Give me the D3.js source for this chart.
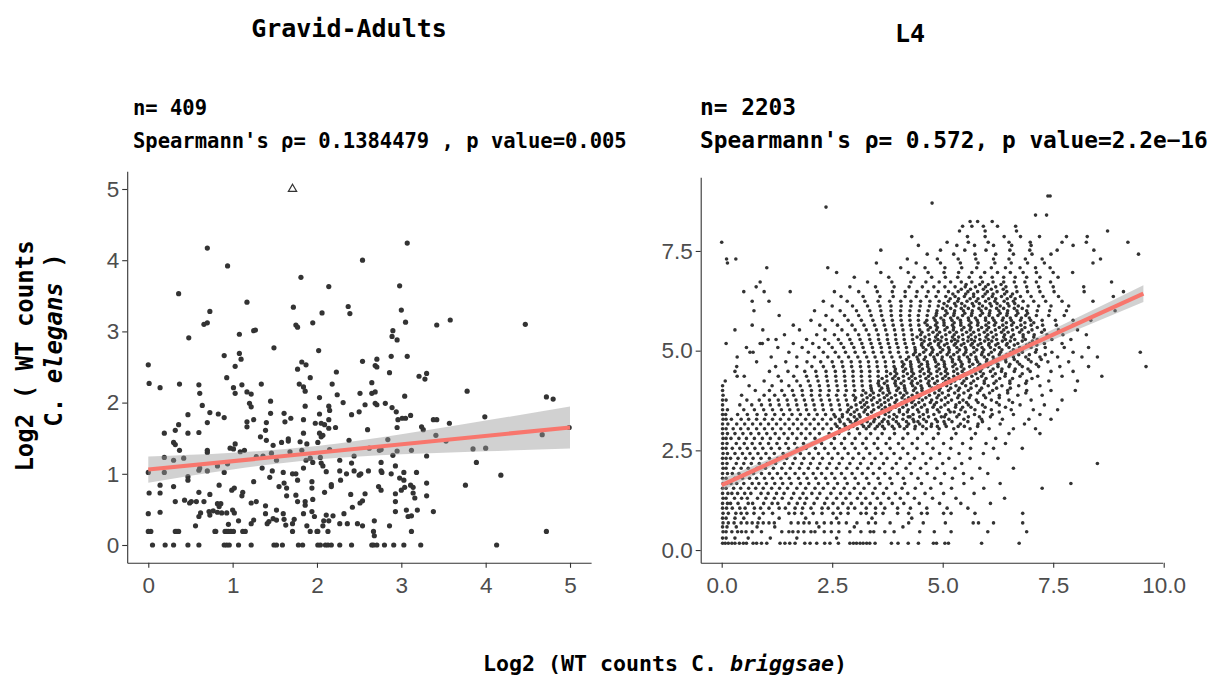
<!DOCTYPE html>
<html><head><meta charset="utf-8">
<script src="https://cdn.jsdelivr.net/npm/d3@7"></script>
<style>body{margin:0;background:#fff}svg{display:block}</style>
</head><body><svg id="c" width="1217" height="677"></svg>
<script>
// ---------------- DATA ----------------
const titles = ["Gravid-Adults", "L4"];
const nLabels = ["n= 409", "n= 2203"];
const statLabels = ["Spearmann's \u03c1= 0.1384479 , p value=0.005", "Spearmann's \u03c1= 0.572, p value=2.2e\u221216"];
const gaXTicks = [0, 1, 2, 3, 4, 5];
const gaYTicks = [0, 1, 2, 3, 4, 5];
const l4XTicks = [0, 2.5, 5, 7.5, 10];
const l4YTicks = [0, 2.5, 5, 7.5];
// Gravid-Adults points [log2 C. briggsae, log2 C. elegans]
const gaPoints = [
[0.70,4.17],[0.94,3.92],[3.07,4.24],[2.54,4.00],[1.81,3.76],[2.14,3.63],[2.98,3.64],[0.36,3.53],[1.17,3.41],[1.72,3.34],[2.37,3.35],[2.39,3.25],[3.00,3.30],[0.73,3.28],[2.06,3.26],[3.05,3.13],[0.70,3.12],[0.66,3.10],[1.95,3.12],[1.75,3.09],[1.77,3.06],[3.42,3.09],[3.58,3.16],[4.47,3.10],[2.90,3.01],[2.89,2.93],[2.95,2.88],[1.27,3.02],[1.25,3.01],[1.08,2.96],[0.48,2.91],[1.49,2.77],[2.02,2.73],[0.90,2.66],[1.08,2.69],[1.10,2.61],[1.03,2.51],[0.00,2.53],[1.82,2.57],[1.87,2.53],[1.77,2.47],[2.54,2.58],[2.71,2.61],[2.69,2.52],[2.71,2.50],[2.88,2.65],[3.07,2.65],
[2.23,2.43],[2.86,2.42],[3.21,2.37],[3.30,2.41],[3.28,2.33],[0.93,2.35],[1.92,2.35],[0.01,2.27],[0.14,2.21],[0.37,2.26],[0.60,2.25],[0.61,2.13],[1.01,2.21],[1.03,2.13],[1.11,2.25],[1.17,2.15],[1.22,2.12],[1.34,2.26],[1.79,2.26],[1.84,2.22],[1.86,2.16],[2.18,2.26],[2.24,2.11],[2.51,2.13],[2.65,2.28],[2.65,2.13],[2.69,2.15],[3.04,2.09],[3.78,2.16],[4.72,2.08],[4.80,2.05],[1.45,2.02],[0.64,1.96],[1.20,1.99],[1.22,1.94],[1.86,1.95],[2.03,2.07],[2.14,1.95],[2.15,1.89],[2.31,2.00],[2.57,1.97],[2.69,1.99],[2.71,1.97],[2.81,1.99],[2.89,1.93],[2.94,1.87],[0.73,1.86],[0.83,1.84],[0.90,1.79],[0.47,1.83],[1.45,1.85],[1.61,1.85],[1.62,1.73],[1.69,1.78],[1.84,1.76],[2.03,1.84],[2.41,1.83],[2.50,1.87],[3.01,1.78],[3.05,1.78],[2.96,1.76],[3.11,1.82],[3.38,1.76],[3.42,1.76],[3.57,1.71],[3.99,1.80],[4.99,1.65],[4.67,1.55],[1.25,1.76],[1.17,1.73],[1.17,1.66],[1.40,1.72],[0.70,1.72],[0.36,1.69],[0.32,1.61],[0.19,1.57],[0.47,1.57],[0.60,1.58],[1.39,1.61],[1.98,1.71],[2.05,1.71],[2.09,1.69],[2.14,1.76],[2.14,1.64],[2.22,1.65],[2.03,1.57],[2.05,1.52],[2.07,1.54],[1.84,1.57],[1.66,1.49],[1.66,1.46],[1.68,1.31],[2.60,1.62],[2.95,1.65],[3.24,1.66],[3.26,1.62],[3.41,1.54],[3.53,1.46],[1.33,1.52],[1.40,1.47],[1.48,1.40],[1.58,1.44],[1.80,1.45],[1.88,1.42],[2.01,1.44],[2.38,1.47],[2.84,1.48],[0.30,1.44],[0.32,1.41],[0.37,1.33],[0.70,1.33],[0.70,1.30],[0.97,1.36],[1.01,1.35],[1.03,1.42],[1.09,1.31],[1.14,1.33],[1.28,1.24],[1.36,1.25],[1.46,1.29],[1.52,1.19],[1.82,1.33],[1.87,1.19],[1.92,1.22],[1.95,1.16],[2.04,1.23],[2.05,1.15],[2.07,1.11],[2.15,1.34],[2.27,1.19],[2.41,1.15],[2.44,1.25],[2.62,1.36],[2.74,1.33],[2.76,1.34],[2.76,1.16],[2.90,1.26],[2.95,1.32],[3.12,1.33],[3.30,1.25],[3.85,1.35],[4.00,1.36],[3.89,1.16],[0.19,1.23],[0.30,1.19],[0.42,1.22],[0.00,1.02],[0.19,1.02],[0.47,0.96],[0.47,0.91],[0.60,1.05],[0.61,1.08],[0.70,1.04],[0.82,1.11],[0.90,1.02],[0.94,1.14],[1.35,1.08],[1.44,0.95],[1.47,1.04],[1.60,1.02],[1.71,1.00],[1.75,1.00],[1.77,0.91],[1.84,1.08],[1.94,0.89],[1.94,0.80],[2.11,1.03],[2.27,1.04],[2.28,0.91],[2.35,1.00],[2.44,1.04],[2.50,0.98],[2.52,1.00],[2.61,1.04],[2.77,1.02],[2.76,1.04],[2.88,1.00],[2.93,1.11],[2.98,0.94],[3.03,0.91],[3.03,1.02],[3.11,0.84],[3.14,0.81],[3.18,1.02],[3.30,0.87],[3.76,0.84],[4.18,0.98],[1.25,0.89],[1.61,0.87],[1.64,0.80],[1.55,0.82],[0.30,0.82],[0.14,0.84],[0.14,0.73],[0.01,0.73],[0.84,0.84],[0.99,0.77],[1.02,0.80],[1.12,0.74],[1.11,0.69],[0.60,0.74],[0.73,0.71],[2.17,0.82],[2.17,0.85],[2.09,0.74],[2.40,0.71],[2.57,0.72],[2.73,0.82],[2.76,0.77],[2.93,0.72],[3.00,0.77],[3.04,0.81],[3.14,0.73],[3.16,0.66],[3.30,0.69],[0.43,0.63],[0.49,0.59],[0.51,0.61],[0.32,0.61],[0.57,0.61],[0.66,0.61],[1.22,0.59],[1.28,0.61],[0.82,0.58],[0.84,0.54],[0.86,0.58],[1.39,0.55],[1.64,0.69],[1.75,0.70],[1.77,0.61],[1.86,0.61],[1.86,0.56],[1.95,0.64],[2.51,0.59],[2.54,0.62],[2.42,0.53],[2.93,0.61],[3.06,0.49],[3.08,0.40],[3.19,0.49],[3.12,0.41],[3.38,0.47],[0.14,0.46],[0.00,0.44],[0.62,0.45],[0.60,0.40],[0.72,0.47],[0.73,0.42],[0.77,0.48],[0.82,0.46],[0.87,0.45],[0.93,0.45],[1.00,0.49],[1.02,0.45],[1.39,0.44],[1.41,0.30],[1.43,0.33],[1.48,0.37],[1.52,0.49],[1.60,0.44],[1.52,0.35],[1.61,0.36],[1.73,0.36],[1.71,0.30],[1.84,0.44],[1.94,0.47],[1.97,0.40],[2.08,0.34],[2.11,0.42],[2.14,0.34],[2.19,0.41],[2.32,0.44],[2.27,0.30],[2.36,0.30],[2.68,0.34],[2.93,0.47],[1.07,0.34],[1.25,0.35],[1.22,0.30],[0.56,0.27],[0.95,0.29],[1.63,0.28],[2.48,0.30],[2.54,0.27],[2.86,0.27],[2.68,0.13],[1.88,0.27],[2.07,0.27],
[0.00,0.19],[0.03,0.19],[0.32,0.19],[0.34,0.19],[0.36,0.19],[0.79,0.19],[0.80,0.19],[0.91,0.19],[0.93,0.19],[0.95,0.19],[0.98,0.19],[1.01,0.19],[1.12,0.19],[1.15,0.19],[1.71,0.19],[1.92,0.19],[2.00,0.19],[2.01,0.19],[2.13,0.19],[2.67,0.19],[3.12,0.19],[4.72,0.19],
[0.05,0],[0.20,0],[0.30,0],[0.47,0],[0.60,0],[0.90,0],[0.93,0],[0.96,0],[1.07,0],[1.22,0],[1.49,0],[1.52,0],[1.59,0],[1.78,0],[1.83,0],[2.01,0],[2.04,0],[2.10,0],[2.13,0],[2.17,0],[2.27,0],[2.41,0],[2.65,0],[2.67,0],[2.71,0],[2.80,0],[2.91,0],[3.03,0],[3.23,0],[4.13,0]
];
const gaOutlier = [[1.71, 5.0]];
// L4 points, read row by row: [log2 C. elegans level, [log2 C. briggsae values]]
const l4Rows = [
[0.17,[0.02,0.08,0.15,0.23,0.30,0.40,0.49,0.56,0.71,0.79,0.90,1.02,1.32,1.43,1.54,1.66,1.88,2.0,2.15,2.33,2.45,2.64,2.90,2.98,3.05,3.13,3.20,3.28,3.35,3.47,3.84,3.99,4.22,4.45,4.79,4.86,5.05,5.13,5.88,6.73]],
[0.30,[0.02,0.1,0.3,0.6,1.1,1.7,2.6]],
[0.46,[0.03,0.1,0.23,0.36,0.45,0.55,0.69,0.90,1.36,1.52,1.61,1.73,1.86,2.02,2.11,2.32,2.48,2.65,2.90,3.15,3.36,3.44,3.69,3.90,4.48,4.81,5.19,6.02,6.90]],
[0.58,[0.02,0.12,0.33,0.8,1.2,2.2,3.0,4.1]],
[0.68,[0.03,0.15,0.28,0.44,0.57,0.69,0.82,0.94,1.07,1.19,1.57,1.73,1.86,1.98,2.15,2.32,2.48,2.65,2.82,3.06,3.32,3.48,3.81,4.23,4.56,5.06,5.69,5.81,6.15,6.81]],
[0.80,[0.02,0.1,0.3,0.5,0.85,1.3,1.9,2.6,3.4,4.3]],
[0.92,[0.03,0.15,0.32,0.44,0.57,0.73,0.94,1.15,1.52,1.65,1.81,2.07,2.27,2.52,2.69,2.86,3.15,3.27,3.48,3.65,3.98,4.23,4.52,4.65,5.02,5.19,5.73,6.81]],
[1.05,[0.02,0.11,0.24,0.41,0.53,0.74,0.88,1.07,1.3,1.44,1.66,1.83,2.02,2.27,2.41,2.63,2.86,3.01,3.27,3.48,3.69,3.98,4.27,4.64,5.1,5.57]],
[1.17,[0.02,0.13,0.2,0.37,0.6,0.7,0.95,1.14,1.27,1.52,1.71,1.88,2.09,2.33,2.52,2.74,2.93,3.17,3.36,3.6,3.86,4.12,4.47,4.93,5.41,6.08]],
[1.30,[0.03,0.1,0.29,0.45,0.58,0.81,1.0,1.19,1.37,1.58,1.77,1.92,2.16,2.38,2.6,2.81,3.07,3.26,3.52,3.78,4.04,4.36,4.77,5.3,6.4]],
[1.42,[0.02,0.14,0.23,0.36,0.52,0.66,0.89,1.05,1.24,1.41,1.63,1.84,2.04,2.22,2.47,2.69,2.9,3.14,3.42,3.66,3.93,4.21,4.6,5.02,5.71]],
[1.55,[0.02,0.1,0.27,0.43,0.61,0.77,0.94,1.13,1.31,1.49,1.7,1.9,2.11,2.3,2.54,2.77,3.0,3.22,3.47,3.73,4.08,4.38,4.73,5.2,5.93,7.25]],
[1.67,[0.03,0.12,0.21,0.34,0.5,0.69,0.84,1.01,1.2,1.38,1.57,1.78,1.97,2.19,2.4,2.62,2.84,3.09,3.33,3.58,3.85,4.14,4.52,4.96,5.48,6.3,7.9]],
[1.80,[0.02,0.1,0.3,0.47,0.63,0.79,0.97,1.15,1.34,1.53,1.74,1.93,2.13,2.35,2.56,2.79,3.02,3.28,3.54,3.81,4.11,4.44,4.82,5.22,5.66]],
[1.92,[0.02,0.13,0.24,0.39,0.56,0.72,0.9,1.08,1.26,1.45,1.66,1.86,2.07,2.26,2.49,2.71,2.95,3.18,3.43,3.69,3.98,4.29,4.65,5.04,5.47,6.02]],
[2.05,[0.03,0.1,0.27,0.44,0.6,0.8,0.99,1.17,1.36,1.55,1.76,1.96,2.17,2.38,2.6,2.83,3.07,3.31,3.57,3.86,4.17,4.5,4.87,5.28,5.84,6.6]],
[2.17,[0.02,0.12,0.33,0.5,0.67,0.85,1.03,1.22,1.42,1.61,1.81,2.01,2.22,2.44,2.66,2.9,3.14,3.39,3.66,3.95,4.26,4.62,5.0,5.43,8.5]],
[2.30,[0.02,0.1,0.2,0.37,0.54,0.71,0.89,1.08,1.27,1.47,1.66,1.86,2.07,2.28,2.5,2.73,2.97,3.21,3.47,3.74,4.04,4.36,4.73,5.14,5.62,6.25]],
[2.42,[0.03,0.13,0.3,0.47,0.64,0.82,1.0,1.19,1.39,1.58,1.78,1.98,2.19,2.41,2.63,2.86,3.1,3.35,3.61,3.9,4.21,4.55,4.93,5.37,5.92]],
[2.55,[0.02,0.1,0.24,0.41,0.58,0.75,0.93,1.12,1.31,1.51,1.71,1.91,2.12,2.33,2.55,2.78,3.02,3.27,3.53,3.81,4.1,4.42,4.78,5.18,5.63,6.15,6.8]],
[2.67,[0.02,0.12,0.33,0.51,0.69,0.87,1.06,1.25,1.45,1.65,1.85,2.05,2.26,2.48,2.71,2.95,3.19,3.45,3.72,4.0,4.31,4.65,5.02,5.45,5.98,6.42]],
[2.80,[0.03,0.1,0.21,0.39,0.56,0.74,0.92,1.1,1.3,1.5,1.7,1.9,2.11,2.33,2.55,2.78,3.02,3.27,3.53,3.8,4.1,4.43,4.79,5.2,5.65,6.2]],
[2.92,[0.02,0.13,0.3,0.48,0.66,0.84,1.02,1.21,1.41,1.6,1.8,2.0,2.21,2.43,2.65,2.88,3.12,3.37,3.63,3.91,4.21,4.54,4.9,5.3,5.74,6.5,7.2]],
[3.04,[0.02,0.1,0.26,0.43,0.6,0.79,0.97,1.15,1.34,1.53,1.72,1.91,2.1,2.29,2.48,2.67,2.87,3.07,3.27,3.47,3.68,3.9,4.13,4.37,4.63,4.92,5.25,5.62,6.05,6.6,7.1]],
[3.16,[0.02,0.14,0.34,0.52,0.7,0.88,1.06,1.24,1.43,1.62,1.81,2.0,2.19,2.38,2.57,2.77,2.97,3.17,3.37,3.57,3.78,4.0,4.23,4.48,4.75,5.05,5.4,5.8,6.3,6.85]],
[3.28,[0.03,0.1,0.22,0.44,0.61,0.79,0.97,1.15,1.33,1.52,1.71,1.9,2.09,2.28,2.47,2.66,2.86,3.06,3.26,3.46,3.67,3.88,4.1,4.33,4.57,4.84,5.14,5.48,5.88,6.35,6.95,7.45]],
[3.40,[0.02,0.09,0.36,0.58,0.8,1.0,1.2,1.4,1.59,1.78,1.97,2.16,2.35,2.54,2.73,2.92,3.11,3.3,3.5,3.7,3.9,4.11,4.33,4.56,4.8,5.07,5.37,5.72,6.12,6.6,7.2]],
[3.52,[0.02,0.13,0.5,0.74,0.95,1.15,1.35,1.54,1.73,1.92,2.11,2.3,2.49,2.68,2.87,3.06,3.25,3.44,3.63,3.82,4.02,4.22,4.43,4.65,4.88,5.13,5.41,5.73,6.1,6.55,7.05,7.6]],
[3.64,[0.02,0.41,0.68,0.9,1.1,1.3,1.5,1.7,1.9,2.09,2.28,2.47,2.66,2.85,3.04,3.23,3.42,3.61,3.8,3.99,4.18,4.38,4.59,4.81,5.05,5.3,5.58,5.9,6.28,6.75,7.3]],
[3.76,[0.02,0.1,0.57,0.85,1.08,1.28,1.48,1.68,1.87,2.06,2.25,2.44,2.63,2.82,3.01,3.2,3.39,3.58,3.77,3.96,4.15,4.34,4.54,4.75,4.97,5.2,5.46,5.76,6.1,6.5,7.0,7.7]],
[3.88,[0.03,0.45,0.96,1.2,1.42,1.63,1.83,2.03,2.22,2.41,2.6,2.79,2.98,3.17,3.36,3.55,3.74,3.93,4.12,4.31,4.5,4.7,4.91,5.13,5.37,5.63,5.93,6.28,6.7,7.25]],
[4.00,[0.02,0.76,1.08,1.36,1.6,1.82,2.03,2.23,2.43,2.63,2.82,3.01,3.2,3.39,3.58,3.77,3.96,4.15,4.34,4.53,4.72,4.92,5.13,5.35,5.58,5.84,6.13,6.47,6.9,7.45,8.0]],
[4.12,[0.02,0.62,1.14,1.52,1.78,2.0,2.21,2.41,2.61,2.8,2.99,3.18,3.37,3.56,3.75,3.94,4.13,4.32,4.51,4.7,4.89,5.09,5.3,5.52,5.76,6.03,6.34,6.72,7.2]],
[4.24,[0.08,0.96,1.35,1.7,1.96,2.18,2.39,2.59,2.79,2.98,3.17,3.36,3.55,3.74,3.93,4.12,4.31,4.5,4.69,4.88,5.07,5.27,5.48,5.7,5.94,6.21,6.52,6.9,7.4,8.05]],
[4.36,[0.35,0.51,1.28,1.63,1.92,2.15,2.37,2.58,2.78,2.97,3.16,3.35,3.54,3.73,3.92,4.11,4.3,4.49,4.68,4.87,5.06,5.25,5.45,5.66,5.88,6.13,6.41,6.75,7.15,7.7,8.6]],
[4.48,[0.3,1.08,1.5,1.88,2.13,2.36,2.57,2.77,2.97,3.16,3.35,3.54,3.73,3.92,4.11,4.3,4.49,4.68,4.87,5.06,5.25,5.44,5.64,5.85,6.08,6.33,6.62,6.98,7.45,7.95]],
[4.60,[0.34,1.22,1.7,2.04,2.3,2.53,2.74,2.94,3.14,3.33,3.52,3.71,3.9,4.09,4.28,4.47,4.66,4.85,5.04,5.23,5.42,5.61,5.81,6.02,6.25,6.5,6.8,7.17,7.65,8.3,9.6]],
[4.72,[0.79,1.45,1.93,2.24,2.5,2.72,2.93,3.13,3.32,3.51,3.7,3.89,4.08,4.27,4.46,4.65,4.84,5.03,5.22,5.41,5.6,5.79,5.99,6.2,6.43,6.69,7.0,7.38,7.85]],
[4.84,[0.35,1.12,1.7,2.1,2.4,2.65,2.87,3.08,3.28,3.47,3.66,3.85,4.04,4.23,4.42,4.61,4.8,4.99,5.18,5.37,5.56,5.75,5.94,6.14,6.36,6.6,6.88,7.2,7.6,8.15,8.5]],
[4.96,[0.64,0.71,1.52,1.96,2.3,2.57,2.8,3.02,3.23,3.43,3.62,3.81,4.0,4.19,4.38,4.57,4.76,4.95,5.14,5.33,5.52,5.71,5.9,6.1,6.31,6.54,6.8,7.1,7.47,7.95,9.47]],
[5.08,[0.56,1.27,1.82,2.2,2.5,2.76,2.99,3.2,3.41,3.61,3.8,3.99,4.18,4.37,4.56,4.75,4.94,5.13,5.32,5.51,5.7,5.89,6.08,6.28,6.5,6.74,7.0,7.32,7.75,8.3]],
[5.18,[0.1,0.87,0.92,1.62,2.06,2.42,2.7,2.94,3.17,3.38,3.58,3.77,3.96,4.15,4.34,4.53,4.72,4.91,5.1,5.29,5.48,5.67,5.86,6.05,6.25,6.46,6.7,6.97,7.3,7.7]],
[5.28,[1.05,1.23,1.92,2.33,2.64,2.9,3.13,3.35,3.55,3.75,3.94,4.13,4.32,4.51,4.7,4.89,5.08,5.27,5.46,5.65,5.84,6.03,6.22,6.42,6.63,6.87,7.14,7.47,7.9]],
[5.40,[1.42,2.15,2.55,2.85,3.1,3.33,3.54,3.74,3.93,4.12,4.31,4.5,4.69,4.88,5.07,5.26,5.45,5.64,5.83,6.02,6.21,6.4,6.6,6.82,7.07,7.36,7.72,8.25]],
[5.52,[0.3,0.93,1.76,2.34,2.72,3.02,3.27,3.5,3.71,3.91,4.1,4.29,4.48,4.67,4.86,5.05,5.24,5.43,5.62,5.81,6.0,6.19,6.38,6.58,6.79,7.02,7.3,7.62,8.05]],
[5.64,[0.69,1.62,2.22,2.62,2.95,3.22,3.46,3.68,3.88,4.08,4.27,4.46,4.65,4.84,5.03,5.22,5.41,5.6,5.79,5.98,6.17,6.36,6.56,6.77,7.0,7.26,7.57,7.95]],
[5.76,[2.02,2.5,2.86,3.16,3.42,3.65,3.86,4.06,4.26,4.45,4.64,4.83,5.02,5.21,5.4,5.59,5.78,5.97,6.16,6.35,6.55,6.76,6.99,7.25,7.55,7.95,8.35]],
[5.88,[1.3,2.36,2.78,3.1,3.38,3.62,3.84,4.05,4.25,4.45,4.65,4.85,5.05,5.25,5.45,5.65,5.85,6.05,6.25,6.45,6.66,6.88,7.12,7.4,7.75]],
[6.00,[0.73,2.1,2.68,3.05,3.35,3.6,3.83,4.05,4.26,4.47,4.67,4.87,5.07,5.27,5.47,5.67,5.87,6.07,6.27,6.47,6.68,6.9,7.14,7.42,7.8,8.9]],
[6.12,[2.5,2.96,3.3,3.58,3.83,4.06,4.28,4.49,4.7,4.9,5.1,5.3,5.5,5.7,5.9,6.1,6.3,6.5,6.71,6.93,7.17,7.45,7.85]],
[6.24,[0.69,1.07,2.3,2.84,3.24,3.54,3.8,4.05,4.28,4.5,4.71,4.92,5.13,5.34,5.55,5.76,5.97,6.18,6.39,6.6,6.82,7.06,7.33,7.7,8.4]],
[6.36,[2.7,3.2,3.58,3.88,4.15,4.4,4.63,4.85,5.07,5.28,5.49,5.7,5.91,6.12,6.33,6.54,6.76,7.0,7.27,7.62,8.86]],
[6.48,[0.5,0.96,1.55,2.55,3.1,3.52,3.86,4.15,4.42,4.67,4.9,5.13,5.35,5.57,5.79,6.01,6.23,6.45,6.68,6.92,7.2,7.52,8.2,9.09]],
[6.60,[0.78,2.9,3.48,3.9,4.24,4.54,4.8,5.05,5.28,5.51,5.74,5.97,6.2,6.43,6.66,6.9,7.17,7.5,8.19]],
[6.72,[0.87,3.3,3.85,4.28,4.62,4.92,5.18,5.42,5.66,5.9,6.14,6.38,6.62,6.86,7.12,7.44,8.82]],
[6.84,[3.0,3.78,4.35,4.75,5.06,5.34,5.6,5.86,6.12,6.38,6.64,6.9,7.2,7.61]],
[6.96,[2.6,3.6,4.22,4.67,5.03,5.36,5.66,5.95,6.24,6.53,6.82,7.12,7.5,7.94]],
[7.08,[1.02,2.4,4.05,4.6,5.05,5.43,5.77,6.1,6.42,6.75,7.1,7.43]],
[7.20,[0.13,3.5,4.4,4.95,5.4,5.8,6.18,6.55,6.92,7.3,8.4]],
[7.30,[0.11,0.32,4.2,4.88,5.35,5.75,6.15,6.5,6.87,7.25,8.57]],
[7.42,[4.65,5.25,5.73,6.2,6.6,7.02,7.45,9.43]],
[7.52,[3.6,4.95,5.5,5.98,6.52,6.97,7.59,8.42]],
[7.64,[4.45,5.32,5.72,6.15,6.56,7.0,7.95]],
[7.72,[0.0,5.1,5.58,6.03,6.5,6.98,7.7,8.25,9.19]],
[7.86,[4.3,5.56,5.96,6.39,6.76,7.19,7.8,8.27]],
[8.00,[5.38,5.96,6.67,8.73]],
[8.12,[5.45,5.66,5.92,6.24,6.65]],
[8.24,[5.62,5.79,6.12]],
[8.40,[7.1,7.35]],
[8.60,[2.36]],
[8.70,[4.76]],
[8.88,[7.38,7.43]],
// denser core of the cloud
[3.10,[2.61,2.8,2.97,3.21,3.33,3.52,3.64,3.86,4.03,4.19,4.38,4.55,4.74,4.88,5.08,5.35,5.49,5.79]],
[3.22,[2.68,2.91,3.03,3.29,3.44,3.63,3.76,3.95,4.18,4.35,4.44,4.63,4.88,5.03,5.21,5.57,5.9]],
[3.34,[2.57,2.73,3.0,3.13,3.38,3.55,3.79,3.96,4.22,4.26,4.48,4.68,4.97,5.04,5.32,5.58,5.83,6.08]],
[3.46,[2.84,3.0,3.22,3.39,3.62,3.78,4.02,4.2,4.46,4.65,4.92,5.17,5.26,5.51,5.92,6.28]],
[3.58,[2.93,3.17,3.31,3.55,3.7,3.93,4.1,4.32,4.52,4.78,4.96,5.29,5.45,5.64,5.96,6.42]],
[3.70,[3.14,3.28,3.52,3.69,3.92,4.08,4.3,4.46,4.72,4.86,5.12,5.38,5.54,5.8,6.22,6.58]],
[3.82,[3.03,3.29,3.44,3.68,3.84,4.08,4.23,4.46,4.62,4.87,5.06,5.34,5.6,5.97,6.28]],
[3.94,[3.26,3.43,3.65,3.8,4.04,4.19,4.42,4.58,4.82,4.99,5.27,5.48,5.79,6.06,6.47,6.88]],
[4.06,[3.38,3.62,3.76,4.0,4.14,4.38,4.53,4.76,4.94,5.18,5.38,5.64,5.88,6.22,6.53]],
[4.18,[3.54,3.68,3.92,4.06,4.29,4.43,4.67,4.82,5.02,5.18,5.44,5.64,5.94,6.16,6.52,6.88]],
[4.30,[3.63,3.87,4.0,4.24,4.38,4.62,4.77,5.0,5.14,5.38,5.54,5.79,5.98,6.29,6.58,7.02]],
[4.42,[3.82,3.96,4.2,4.34,4.58,4.73,4.96,5.11,5.34,5.5,5.75,5.92,6.19,6.42,6.8]],
[4.54,[3.93,4.16,4.3,4.54,4.69,4.92,5.08,5.32,5.48,5.72,5.88,6.14,6.34,6.64,6.93]],
[4.66,[4.12,4.28,4.52,4.66,4.9,5.04,5.28,5.44,5.68,5.84,6.08,6.25,6.52,6.74,7.12]],
[4.78,[4.18,4.44,4.58,4.82,4.98,5.22,5.37,5.6,5.76,6.0,6.16,6.42,6.62,6.94,7.23]],
[4.90,[4.34,4.48,4.72,4.88,5.1,5.25,5.48,5.64,5.88,6.04,6.28,6.45,6.72,6.96,7.32]],
[5.02,[4.38,4.62,4.78,5.0,5.15,5.38,5.53,5.77,5.93,6.17,6.34,6.6,6.8,7.12]],
[5.14,[4.52,4.68,4.9,5.04,5.26,5.42,5.64,5.8,6.04,6.2,6.44,6.62,6.9,7.13]],
[5.24,[4.58,4.82,4.96,5.2,5.34,5.57,5.72,5.95,6.11,6.35,6.53,6.8,7.03]],
[5.34,[4.42,4.6,4.84,4.98,5.22,5.36,5.58,5.74,5.98,6.14,6.38,6.55,6.82,7.06]],
[5.46,[4.53,4.78,4.93,5.16,5.31,5.54,5.7,5.94,6.1,6.33,6.48,6.74,6.94,7.24]],
[5.58,[4.72,4.88,5.1,5.25,5.48,5.64,5.88,6.04,6.28,6.44,6.68,6.86,7.14]],
[5.70,[4.6,4.87,5.03,5.26,5.41,5.64,5.8,6.04,6.2,6.44,6.6,6.86,7.06]],
[5.82,[4.8,4.96,5.18,5.34,5.58,5.74,5.97,6.13,6.37,6.53,6.78,6.96]],
[5.94,[4.86,5.1,5.26,5.5,5.66,5.9,6.06,6.3,6.46,6.7,6.92]],
[6.06,[5.0,5.18,5.42,5.58,5.82,5.98,6.22,6.38,6.62,6.8]],
[6.18,[5.03,5.27,5.43,5.67,5.83,6.07,6.23,6.47,6.63]],
[6.30,[5.17,5.36,5.62,5.8,6.04,6.2,6.46,6.64]],
[6.42,[5.23,5.52,5.7,5.96,6.14,6.4,6.58]],
[6.54,[5.42,5.63,5.92,6.1,6.37]],
[6.66,[5.53,5.84,6.03,6.32]]
];
const l4Points = l4Rows.flatMap(([yv, xs]) => xs.map(xv => [xv, yv]));
// fitted lines [intercept, slope] and CI half-widths
const gaFit = [1.06, 0.118];
const l4Fit = [1.63, 0.503];
const gaBandX = [0, 1, 2, 3, 4, 5];
const gaBandHW = [0.184, 0.117, 0.095, 0.141, 0.215, 0.296];
const l4BandX = [0, 2, 4, 6, 8, 9.54];
const l4BandHW = [0.15, 0.08, 0.035, 0.08, 0.15, 0.21];

// ---------------- DRAW ----------------
const svg = d3.select("#c");
const mono = "'DejaVu Sans Mono', 'Liberation Mono', monospace";
const sans = "'Liberation Sans', Arial, sans-serif";

function panel(o) {
  const x = d3.scaleLinear().domain(o.xDom).range(o.xRange);
  const y = d3.scaleLinear().domain(o.yDom).range(o.yRange);
  const g = svg.append("g");
  g.append("g").selectAll("circle").data(o.pts).join("circle")
    .attr("cx", d => x(d[0])).attr("cy", d => y(d[1])).attr("r", o.r).attr("fill", "#333333");
  if (o.out) {
    g.append("g").selectAll("path").data(o.out).join("path")
      .attr("d", d3.symbol(d3.symbolTriangle, 30)())
      .attr("transform", d => `translate(${x(d[0])},${y(d[1])})`)
      .attr("fill", "none").attr("stroke", "#333").attr("stroke-width", 1.2);
  }
  const bandPts = o.bandX.map((bx, i) => [bx, o.fit[0] + o.fit[1] * bx, o.bandHW[i]]);
  g.append("path").datum(bandPts)
    .attr("d", d3.area().curve(d3.curveMonotoneX).x(d => x(d[0])).y0(d => y(d[1] - d[2])).y1(d => y(d[1] + d[2])))
    .attr("fill", "#999999").attr("fill-opacity", 0.45);
  const xr = o.lineX;
  g.append("line").attr("x1", x(xr[0])).attr("x2", x(xr[1]))
    .attr("y1", y(o.fit[0] + o.fit[1] * xr[0])).attr("y2", y(o.fit[0] + o.fit[1] * xr[1]))
    .attr("stroke", "#F8766D").attr("stroke-width", 4.2);
  const ax = g.append("g").attr("transform", `translate(0,${o.yRange[0]})`)
    .call(d3.axisBottom(x).tickValues(o.xTicks).tickFormat(o.xFmt).tickSize(5).tickSizeOuter(0).tickPadding(9));
  const ay = g.append("g").attr("transform", `translate(${o.xRange[0]},0)`)
    .call(d3.axisLeft(y).tickValues(o.yTicks).tickFormat(o.yFmt).tickSize(5).tickSizeOuter(0).tickPadding(3));
  [ax, ay].forEach(a => {
    a.select(".domain").attr("stroke", "#333").attr("stroke-width", 1.1);
    a.selectAll(".tick line").attr("stroke", "#333").attr("stroke-width", 1.1);
    a.selectAll(".tick text").attr("fill", "#4d4d4d").style("font-family", sans).style("font-size", "22.5px");
  });
}

panel({
  pts: gaPoints, out: gaOutlier, r: 2.6,
  xDom: [-0.25, 5.25], xRange: [127.2, 591.1],
  yDom: [-0.25, 5.25], yRange: [562.8, 171.2],
  xTicks: gaXTicks, yTicks: gaYTicks, xFmt: d3.format("d"), yFmt: d3.format("d"),
  fit: gaFit, bandX: gaBandX, bandHW: gaBandHW, lineX: [0, 5]
});
panel({
  pts: l4Points, r: 1.8,
  xDom: [-0.475, 9.975], xRange: [700.7, 1162.6],
  yDom: [-0.32, 9.35], yRange: [562.8, 177.2],
  xTicks: l4XTicks, yTicks: l4YTicks, xFmt: d3.format(".1f"), yFmt: d3.format(".1f"),
  fit: l4Fit, bandX: l4BandX, bandHW: l4BandHW, lineX: [0, 9.54]
});

const txt = (t, xx, yy, size, anchor) => svg.append("text").attr("x", xx).attr("y", yy)
  .attr("text-anchor", anchor || "start").style("font-family", mono).style("font-weight", "bold")
  .style("font-size", size + "px").attr("fill", "#000").text(t);
txt(titles[0], 349, 37, 25, "middle");
txt(titles[1], 910, 42, 25, "middle");
txt(nLabels[0], 133, 115, 20.5);
txt(statLabels[0], 133, 148, 20.5);
txt(nLabels[1], 700, 115, 22.8);
txt(statLabels[1], 700, 148, 22.8);

const yl1 = svg.append("text").attr("transform", "translate(33,356) rotate(-90)")
  .attr("text-anchor", "middle").style("font-family", mono).style("font-weight", "bold").style("font-size", "24px");
yl1.text("Log2 ( WT counts");
const yl2 = svg.append("text").attr("transform", "translate(62,340) rotate(-90)")
  .attr("text-anchor", "middle").style("font-family", mono).style("font-weight", "bold").style("font-size", "24px");
yl2.append("tspan").text("C. ");
yl2.append("tspan").style("font-style", "italic").text("elegans");
yl2.append("tspan").text(" )");

const xl = svg.append("text").attr("x", 665).attr("y", 671).attr("text-anchor", "middle")
  .style("font-family", mono).style("font-weight", "bold").style("font-size", "21.6px");
xl.append("tspan").text("Log2 (WT counts C. ");
xl.append("tspan").style("font-style", "italic").text("briggsae");
xl.append("tspan").text(")");
</script>
</body></html>
